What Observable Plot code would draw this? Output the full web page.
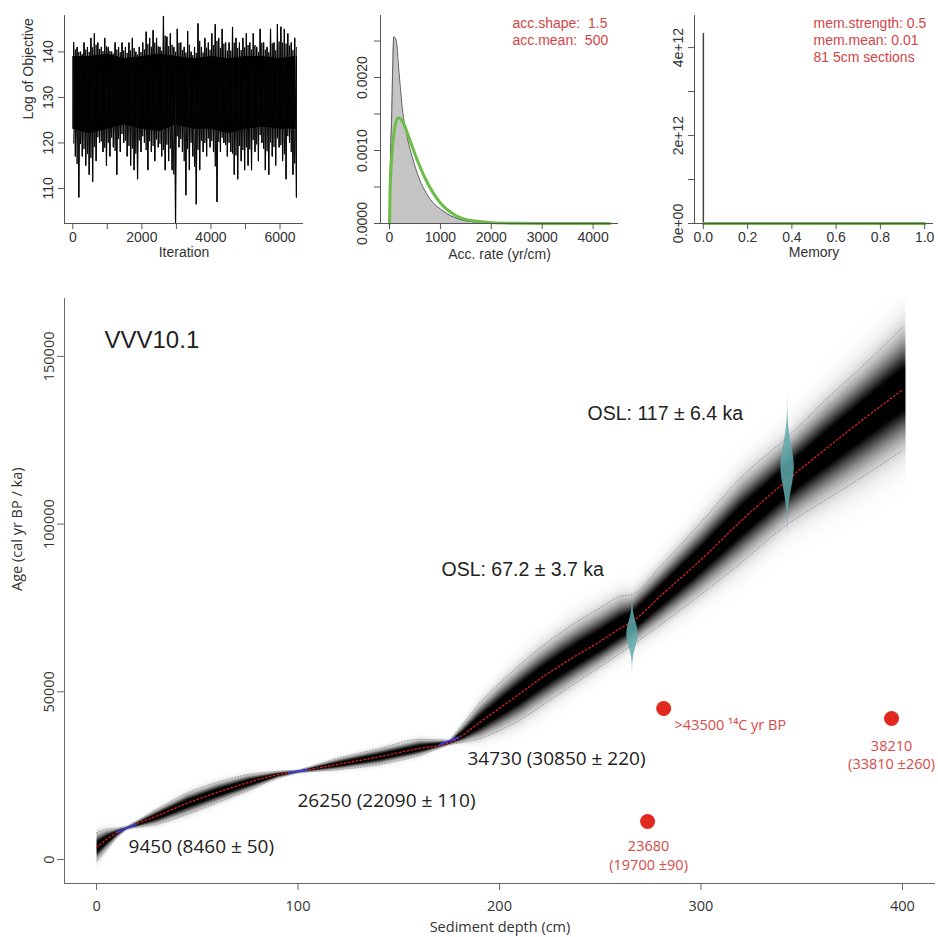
<!DOCTYPE html>
<html>
<head>
<meta charset="utf-8">
<script src="https://cdn.jsdelivr.net/npm/d3@7"></script>
<script src="https://cdn.jsdelivr.net/npm/@observablehq/plot@0.6"></script>
<style>
  body { margin: 0; background: #fff; }
  #wrap { position: relative; width: 938px; height: 937px; overflow: hidden; background: #fff; }
  #wrap > div { position: absolute; }
  svg { overflow: visible; }
</style>
</head>
<body>
<div id="wrap">
  <div id="p1" style="left:0px;top:0px"></div>
  <div id="p2" style="left:310px;top:0px"></div>
  <div id="p3" style="left:630px;top:0px"></div>
  <div id="p4" style="left:0px;top:280px"></div>
</div>
<script>
// ================= DATA =================
// --- MCMC trace (per 100-iteration bin: highest and lowest value read) ---
const traceStep = 100;
const traceHi = [142,141,140,142,141,143,144,142,141,143,
                 141,140,142,141,142,141,142,143,140,141,
                 142,144.4,143,144.7,143,141,147.8,143.3,144,141,
                 145,142,141,144.5,140,141,146.2,141,143,142,
                 144,146,143,145,142,142,145.4,143,142,143,
                 144,142,144,141,145,142,141,145,142,146,
                 145.5,145,144,142,143];
const traceLo = [117,108,117,115,113,111.4,116,120,118,115,
                 117,119,113,118,120,117,115,114,112,118,
                 120,114,118,116,119,117,114,116,114,102.3,
                 119,118,108.5,114,117,106.5,114,118,117,119,
                 118,107,118,120,117,118,113,112,116,114,
                 115,114,118,116,120,114,113,117,115,119,
                 116,112,120,113,108];
const traceCoreIter = [0,500,1000,1500,2000,2500,3000,3500,4000,4500,5000,5500,6000,6450];
const traceCoreHi   = [139,139,139.5,138.5,139,139.5,139,138.5,139,138.5,139,139,138.5,139];
const traceCoreLo   = [123,122,123,124,123,122.5,124,123,123,122,123,123.5,123,123];

// --- Accumulation rate: posterior (grey) and prior (green) ---
const accPostX = [0, 20, 40, 85, 130, 183, 250, 348, 446, 576, 773, 1035, 1362, 1690, 2000, 2500];
const accPostY = [0, 0.00095, 0.00141, 0.00256, 0.00251, 0.0021, 0.00159, 0.00118, 0.00091, 0.00063, 0.00036, 0.00018, 0.00006, 0.00002, 0.000005, 0];
const accPriorX = [0, 10, 25, 50, 100, 167, 250, 350, 500, 700, 1000, 1300, 1600, 2000, 2500, 3000, 4330];
const accPriorY = [0, 0.00044, 0.0007, 0.00098, 0.0013, 0.00145, 0.00141, 0.00124, 0.00095, 0.00062, 0.00028, 0.00011, 0.00004, 0.000012, 0.000002, 0, 0];
const accLegend = ["acc.shape:  1.5", "acc.mean:  500"];

// --- Memory: posterior (grey) and prior (green) ---
const memPostX = [0, 0];
const memPostY = [0, 4.32e12];
const memPriorX = [0, 0.2, 0.4, 0.6, 0.8, 1.0];
const memPriorY = [0, 0, 0, 0, 0, 0];
const memLegend = ["mem.strength: 0.5", "mem.mean: 0.01", "81 5cm sections"];

// --- Age-depth model (mean and 95% range) ---
const modelDepth = [0, 5, 10, 15, 30, 45, 60, 75, 90, 100, 120, 140, 160, 175, 182, 190, 200, 210, 220, 230, 240, 250, 260, 266, 280, 300, 320, 343, 360, 380, 400];
const modelMean  = [3600, 6000, 8000, 9450, 13000, 16800, 20000, 22900, 25300, 26250, 28400, 30600, 33100, 34730, 37200, 40800, 45100, 49400, 53800, 57800, 61500, 65000, 69000, 71000, 78600, 89400, 101000, 113200, 121500, 131000, 140000];
const modelLo    = [-500, 3000, 6500, 9000, 10500, 13500, 17000, 20500, 24300, 25800, 26800, 28300, 31000, 34200, 35000, 36000, 38500, 41500, 45500, 49500, 53500, 57500, 61500, 64000, 70000, 79000, 88500, 100000, 106500, 114000, 122000];
const modelHi    = [8000, 9000, 9300, 9900, 15000, 19800, 23000, 25300, 26300, 26700, 30200, 33000, 35800, 35600, 40500, 46500, 52500, 58000, 63000, 67500, 71500, 75000, 78500, 79000, 87500, 100500, 114000, 126000, 136000, 147000, 158600];

// --- Dated levels (calibrated radiocarbon used in model) ---
const dateDepth = [15, 100, 175];
const dateAge   = [9450, 26250, 34730];
const dateLabel = ["9450 (8460 ± 50)", "26250 (22090 ± 110)", "34730 (30850 ± 220)"];
const dateLabelDepth = [15.9, 99.7, 184.1];
const dateLabelAge   = [3880, 17590, 30110];

// --- OSL dates ---
const oslDepth = [266, 343];
const oslAge   = [67200, 117000];
const oslErr   = [3700, 6400];
const oslLabel = ["OSL: 67.2 ± 3.7 ka", "OSL: 117 ± 6.4 ka"];
const oslLabelDepth = [171.2, 243.7];
const oslLabelAge   = [86460, 132970];

// --- Rejected radiocarbon dates (red) ---
const c14Depth = [281.5, 394.6, 273.5];
const c14Age   = [45020, 42040, 11330];
const c14Label = [">43500 \u00B9\u2074C yr BP", "38210\n(33810 ±260)", "23680\n(19700 ±90)"];
const c14LabelDepth = [286.9, 394.6, 274.0];
const c14LabelAge   = [39950, 31450, 1490];

const coreName = "VVV10.1";

// ================= STYLE =================
const AX = "#555";
const TXT = "#333";
const SANS = "'Liberation Sans', Arial, sans-serif";
const OPEN = "'Open Sans', 'Noto Sans', sans-serif";
const RED_TXT = "#d24545";

// ================= HELPERS =================
function rAxes(xDom, yDom, xTicks, xFmt, yTicks, yFmt, yPad) {
  return [
    Plot.ruleX([xDom[0]], {stroke: AX, strokeWidth: 1}),
    Plot.ruleY([yDom[0]], {stroke: AX, strokeWidth: 1}),
    Plot.axisX(xTicks, {tickSize: 6, tickPadding: 3, tickFormat: xFmt, label: null, stroke: AX, fill: TXT}),
    Plot.axisY(yTicks, {tickSize: 6, tickPadding: yPad, tickRotate: -90, tickFormat: yFmt, label: null, stroke: AX, fill: TXT})
  ];
}

// ================= PANEL 1: trace =================
{
  const xDom = [-240, 6680], yDom = [102.3, 148];
  const q = traceStep / 4;
  const fCoreHi = d3.scaleLinear(traceCoreIter, traceCoreHi).clamp(true);
  const fCoreLo = d3.scaleLinear(traceCoreIter, traceCoreLo).clamp(true);
  const bins = traceHi.map((h, i) => ({it: i * traceStep + traceStep / 2, hi: h, lo: traceLo[i]}));
  // spikes: the upward extreme in the first half of each bin, the downward extreme in the second half
  const ups = bins.map(b => ({it: b.it - q, y1: fCoreLo(b.it - q), y2: b.hi}));
  const downs = bins.map(b => ({it: b.it + q, y1: b.lo, y2: fCoreHi(b.it + q)}));
  const zig = bins.flatMap(b => [{it: b.it - q, v: b.hi}, {it: b.it + q, v: b.lo}]);
  const zig2 = bins.flatMap(b => [{it: b.it - q, v: b.lo / 2 + fCoreLo(b.it) / 2}, {it: b.it + q, v: b.hi / 2 + fCoreHi(b.it) / 2}]);
  const core = traceCoreIter.map((it, i) => ({it, hi: traceCoreHi[i], lo: traceCoreLo[i]}));
  const svg = Plot.plot({
    width: 310, height: 280,
    marginLeft: 64, marginRight: 7, marginTop: 15, marginBottom: 57,
    x: {domain: xDom}, y: {domain: yDom},
    style: {fontFamily: SANS, fontSize: "14px", color: TXT, background: "transparent"},
    marks: [
      Plot.areaY(core, {x: "it", y1: "lo", y2: "hi", fill: "#000"}),
      Plot.ruleX(ups, {x: "it", y1: "y1", y2: "y2", stroke: "#111", strokeWidth: 1.2}),
      Plot.ruleX(downs, {x: "it", y1: "y1", y2: "y2", stroke: "#111", strokeWidth: 1.2}),
      Plot.line(zig, {x: "it", y: "v", stroke: "#000", strokeWidth: 0.9}),
      Plot.line(zig2, {x: "it", y: "v", stroke: "#000", strokeWidth: 0.9}),
      ...rAxes(xDom, yDom, [0,1000,2000,3000,4000,5000,6000], d => d % 2000 === 0 ? String(d) : "",
               [110,120,130,140], d => String(d), 6),
      Plot.text(["Iteration"], {frameAnchor: "bottom", dy: 33, text: d => d, fill: TXT}),
      Plot.text(["Log of Objective"], {frameAnchor: "left", dx: -36, rotate: -90, text: d => d, fill: TXT})
    ]
  });
  document.getElementById("p1").append(svg);
}

// ================= PANEL 2: acc rate =================
{
  const xDom = [-177, 4499], yDom = [0, 0.00285];
  const post = accPostX.map((x, i) => ({x, y: accPostY[i]}));
  const prior = accPriorX.map((x, i) => ({x, y: accPriorY[i]}));
  const svg = Plot.plot({
    width: 320, height: 280,
    marginLeft: 70, marginRight: 12, marginTop: 15, marginBottom: 57,
    x: {domain: xDom}, y: {domain: yDom},
    style: {fontFamily: SANS, fontSize: "14px", color: TXT, background: "transparent"},
    marks: [
      Plot.areaY(post, {x: "x", y: "y", fill: "#c4c4c4", curve: "monotone-x"}),
      Plot.line(post, {x: "x", y: "y", stroke: "#5a5a5a", strokeWidth: 1, curve: "monotone-x"}),
      Plot.line(prior, {x: "x", y: "y", stroke: "#6cbd48", strokeWidth: 3, curve: "monotone-x"}),
      ...rAxes(xDom, yDom, [0,1000,2000,3000,4000], d => String(d),
               [0,0.0005,0.001,0.0015,0.002,0.0025],
               d => Math.round(d * 1e4) % 10 === 0 ? d.toFixed(4) : "", 8),
      Plot.text(["Acc. rate (yr/cm)"], {frameAnchor: "bottom", dy: 35, text: d => d, fill: TXT}),
      Plot.text([accLegend.join("\n")], {frameAnchor: "top-right", textAnchor: "start", lineAnchor: "top",
               dx: -106, dy: 1, lineHeight: 1.2, text: d => d, fill: RED_TXT})
    ]
  });
  document.getElementById("p2").append(svg);
}

// ================= PANEL 3: memory =================
{
  const xDom = [-0.04, 1.04], yDom = [0, 4.73e12];
  const post = memPostX.map((x, i) => ({x, y: memPostY[i]}));
  const prior = memPriorX.map((x, i) => ({x, y: memPriorY[i]}));
  const svg = Plot.plot({
    width: 308, height: 280,
    marginLeft: 64, marginRight: 5, marginTop: 15, marginBottom: 57,
    x: {domain: xDom}, y: {domain: yDom},
    style: {fontFamily: SANS, fontSize: "14px", color: TXT, background: "transparent"},
    marks: [
      Plot.line(post, {x: "x", y: "y", stroke: "#444", strokeWidth: 1.5}),
      Plot.line(prior, {x: "x", y: "y", stroke: "#6cbd48", strokeWidth: 3}),
      ...rAxes(xDom, yDom, [0,0.2,0.4,0.6,0.8,1.0], d => d.toFixed(1),
               [0,1e12,2e12,3e12,4e12],
               d => (Math.round(d / 1e12) % 2 === 0) ? (Math.round(d / 1e12) + "e+" + (d === 0 ? "00" : "12")) : "", 6),
      Plot.text(["Memory"], {frameAnchor: "bottom", dy: 33, text: d => d, fill: TXT}),
      Plot.text([memLegend.join("\n")], {frameAnchor: "top-right", textAnchor: "start", lineAnchor: "top",
               dx: -120, dy: 1, lineHeight: 1.2, text: d => d, fill: RED_TXT})
    ]
  });
  document.getElementById("p3").append(svg);
}

// ================= PANEL 4: age-depth model =================
{
  const xDom = [-15.9, 416.4], yDom = [-7150, 167260];
  const fMean = d3.scaleLinear(modelDepth, modelMean).clamp(true);
  const fLo = d3.scaleLinear(modelDepth, modelLo).clamp(true);
  const fHi = d3.scaleLinear(modelDepth, modelHi).clamp(true);
  const dMax = 401.5;
  const density = (x, y) => {
    if (x < 0 || x > dMax) return 0;
    const m = fMean(x);
    const s = y > m ? (fHi(x) - m) / 2 : (m - fLo(x)) / 2;
    const z = (y - m) / s;
    return Math.min(1, 1.25 * Math.exp(-z * z / 2));
  };
  const model = modelDepth.map((d, i) => ({d, mean: modelMean[i], lo: modelLo[i], hi: modelHi[i]}));

  // violins built from the OSL age and error
  const violinHalfWidth = [2.8, 3.3];
  const violins = [];
  oslDepth.forEach((dep, j) => {
    for (let k = -3.5; k <= 3.5001; k += 0.05) {
      const h = violinHalfWidth[j] * Math.exp(-k * k / 2);
      violins.push({id: j, age: oslAge[j] + k * oslErr[j], x1: dep - h, x2: dep + h});
    }
  });
  const dateMarks = dateDepth.map(d => ({x1: d - 5, x2: d + 5, y1: fMean(d - 5), y2: fMean(d + 5)}));
  const c14Texts = c14Label.map((t, i) => ({t, x: c14LabelDepth[i], y: c14LabelAge[i]}));

  let band;
  if (Plot.raster) {
    band = [Plot.raster({x1: 0, x2: dMax, y1: yDom[0], y2: yDom[1], fill: density, pixelSize: 1})];
  } else {
    band = [];
    for (let k = 2.4; k > 0; k -= 0.2) {
      band.push(Plot.areaY(model, {x: "d", y1: r => r.mean - k * (r.mean - r.lo) / 2,
        y2: r => r.mean + k * (r.hi - r.mean) / 2, fill: "#000", fillOpacity: 0.12}));
    }
  }

  const svg = Plot.plot({
    width: 938, height: 657,
    marginLeft: 64, marginRight: 3, marginTop: 18, marginBottom: 54,
    x: {domain: xDom}, y: {domain: yDom},
    color: {type: "linear", domain: [0, 1], range: ["#ffffff", "#000000"]},
    style: {fontFamily: OPEN, fontSize: "14.5px", color: TXT, background: "transparent"},
    marks: [
      ...band,
      Plot.line(model, {x: "d", y: "lo", stroke: "#9a9a9a", strokeWidth: 1, strokeDasharray: "1,2", curve: "monotone-x"}),
      Plot.line(model, {x: "d", y: "hi", stroke: "#9a9a9a", strokeWidth: 1, strokeDasharray: "1,2", curve: "monotone-x"}),
      Plot.line(model, {x: "d", y: "mean", stroke: "#e02020", strokeWidth: 1.3, strokeDasharray: "1.5,2.5", curve: "monotone-x"}),
      Plot.link(dateMarks, {x1: "x1", x2: "x2", y1: "y1", y2: "y2", stroke: "#3a3ad8", strokeWidth: 2}),
      Plot.areaX(violins, {y: "age", x1: "x1", x2: "x2", z: "id", fill: "#5fa9ad", fillOpacity: 0.85, curve: "linear"}),
      Plot.dot(c14Depth.map((d, i) => ({d, a: c14Age[i]})), {x: "d", y: "a", r: 7.5, fill: "#e2291f", stroke: null}),
      // labels
      Plot.text([coreName], {x: () => 3.95, y: () => 154730, text: d => d, textAnchor: "start",
                 fontFamily: SANS, fontSize: 24, fill: "#222"}),
      Plot.text(dateLabel.map((t, i) => ({t, x: dateLabelDepth[i], y: dateLabelAge[i]})),
                {x: "x", y: "y", text: "t", textAnchor: "start", fontSize: 19, fill: "#222"}),
      Plot.text(oslLabel.map((t, i) => ({t, x: oslLabelDepth[i], y: oslLabelAge[i]})),
                {x: "x", y: "y", text: "t", textAnchor: "start", fontFamily: SANS, fontSize: 19.5, fill: "#222"}),
      Plot.text(c14Texts.slice(0, 1), {x: "x", y: "y", text: "t", textAnchor: "start", fontSize: 14.5, fill: "#d94a48"}),
      Plot.text(c14Texts.slice(1), {x: "x", y: "y", text: "t", textAnchor: "middle", fontSize: 14.5, lineHeight: 1.3, fill: "#d94a48"}),
      // axes
      Plot.ruleX([xDom[0]], {stroke: "#666", strokeWidth: 1}),
      Plot.ruleY([yDom[0]], {stroke: "#666", strokeWidth: 1}),
      Plot.axisX([0, 100, 200, 300, 400], {tickSize: 7, tickPadding: 10, tickFormat: d => String(d), label: null, stroke: "#666", fill: TXT}),
      Plot.axisY([0, 50000, 100000, 150000], {tickSize: 7, tickPadding: 4, tickRotate: -90, tickFormat: d => String(d), label: null, stroke: "#666", fill: TXT}),
      Plot.text(["Sediment depth (cm)"], {frameAnchor: "bottom", dy: 48, text: d => d, fill: TXT}),
      Plot.text(["Age (cal yr BP / ka)"], {frameAnchor: "left", dx: -47, rotate: -90, text: d => d, fill: TXT})
    ]
  });
  document.getElementById("p4").append(svg);
}
</script>
</body>
</html>
